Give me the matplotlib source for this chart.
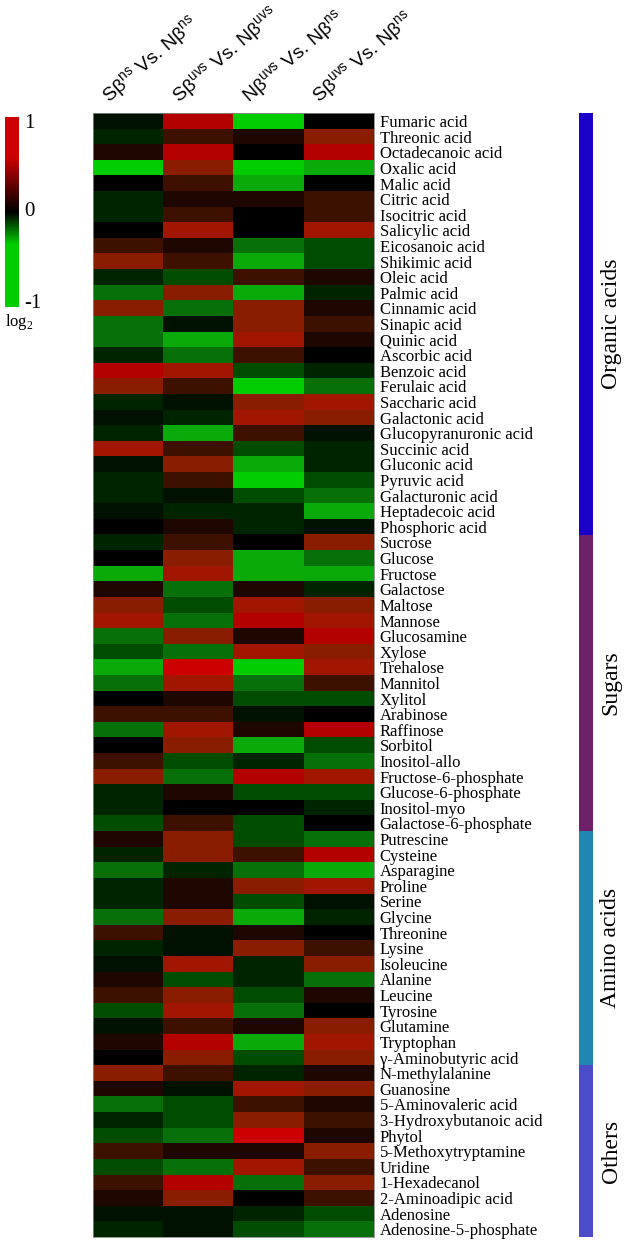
import numpy as np
import matplotlib.pyplot as plt
from matplotlib.colors import LinearSegmentedColormap

# metabolites (top to bottom) and their classes
metabolites = [
    "Fumaric acid", "Threonic acid", "Octadecanoic acid", "Oxalic acid", "Malic acid",
    "Citric acid", "Isocitric acid", "Salicylic acid", "Eicosanoic acid", "Shikimic acid",
    "Oleic acid", "Palmic acid", "Cinnamic acid", "Sinapic acid", "Quinic acid",
    "Ascorbic acid", "Benzoic acid", "Ferulaic acid", "Saccharic acid", "Galactonic acid",
    "Glucopyranuronic acid", "Succinic acid", "Gluconic acid", "Pyruvic acid",
    "Galacturonic acid", "Heptadecoic acid", "Phosphoric acid",
    "Sucrose", "Glucose", "Fructose", "Galactose", "Maltose", "Mannose", "Glucosamine",
    "Xylose", "Trehalose", "Mannitol", "Xylitol", "Arabinose", "Raffinose", "Sorbitol",
    "Inositol-allo", "Fructose-6-phosphate", "Glucose-6-phosphate", "Inositol-myo",
    "Galactose-6-phosphate",
    "Putrescine", "Cysteine", "Asparagine", "Proline", "Serine", "Glycine", "Threonine",
    "Lysine", "Isoleucine", "Alanine", "Leucine", "Tyrosine", "Glutamine", "Tryptophan",
    "γ-Aminobutyric acid",
    "N-methylalanine", "Guanosine", "5-Aminovaleric acid", "3-Hydroxybutanoic acid",
    "Phytol", "5-Methoxytryptamine", "Uridine", "1-Hexadecanol", "2-Aminoadipic acid",
    "Adenosine", "Adenosine-5-phosphate",
]
groups = ["Organic acids", "Sugars", "Amino acids", "Others"]
group_sizes = [27, 19, 15, 11]
group_colors = ["#1a00c8", "#6e2068", "#2088b0", "#4c4cc8"]

comparisons = [
    r"Sβ$^{\mathregular{ns}}$ Vs. Nβ$^{\mathregular{ns}}$",
    r"Sβ$^{\mathregular{uvs}}$ Vs. Nβ$^{\mathregular{uvs}}$",
    r"Nβ$^{\mathregular{uvs}}$ Vs. Nβ$^{\mathregular{ns}}$",
    r"Sβ$^{\mathregular{uvs}}$ Vs. Nβ$^{\mathregular{ns}}$",
]

# log2 fold changes, one list per comparison
sns_vs_nns = [
    -0.1, -0.2, 0.1, -1, 0, -0.2, -0.2, 0, 0.25, 0.6, -0.2, -0.6, 0.6, -0.6, -0.6,
    -0.2, 0.9, 0.6, -0.2, -0.1, -0.2, 0.75, -0.1, -0.2, -0.2, -0.1, 0,
    -0.2, 0, -0.8, 0.1, 0.6, 0.75, -0.6, -0.4, -0.8, -0.6, 0, 0.25, -0.6, 0,
    0.25, 0.6, -0.2, -0.2, -0.4,
    0.1, -0.2, -0.6, -0.2, -0.2, -0.6, 0.25, -0.2, -0.1, 0.1, 0.25, -0.4, -0.1, 0.1, 0,
    0.6, 0.1, -0.6, -0.2, -0.4, 0.25, -0.4, 0.25, 0.1, -0.1, -0.2,
]
suvs_vs_nuvs = [
    0.9, 0.25, 0.9, 0.6, 0.25, 0.1, 0.25, 0.75, 0.1, 0.25, -0.4, 0.6, -0.6, -0.1, -0.8,
    -0.6, 0.75, 0.25, -0.1, -0.2, -0.8, 0.25, 0.6, 0.25, -0.1, -0.2, 0.1,
    0.25, 0.6, 0.75, -0.6, -0.4, -0.6, 0.6, -0.6, 1.0, 0.75, 0.1, 0.25, 0.75, 0.6,
    -0.4, -0.6, 0.1, 0, 0.25,
    0.6, 0.6, -0.2, 0.1, 0.1, 0.6, -0.1, -0.1, 0.75, -0.4, 0.6, 0.75, 0.25, 0.9, 0.6,
    0.25, -0.1, -0.4, -0.4, -0.6, 0.1, -0.6, 0.9, 0.6, -0.1, -0.1,
]
nuvs_vs_nns = [
    -1, 0.1, 0, -1, -0.8, 0.1, 0, 0, -0.6, -0.8, 0.25, -0.8, 0.6, 0.6, 0.75,
    0.25, -0.4, -1, 0.6, 0.75, 0.25, -0.4, -0.8, -1, -0.4, -0.2, -0.2,
    0, -0.8, -0.8, 0.1, 0.75, 0.9, 0.1, 0.75, -1, -0.6, -0.4, -0.1, 0.1, -0.8,
    -0.2, 0.9, -0.4, 0, -0.4,
    -0.4, 0.25, -0.6, 0.6, -0.4, -0.8, 0.1, 0.6, -0.2, -0.2, -0.4, -0.6, 0.1, -0.8, -0.4,
    -0.2, 0.75, 0.25, 0.6, 1.0, 0.1, 0.75, -0.6, 0, -0.2, -0.4,
]
suvs_vs_nns = [
    0, 0.6, 0.9, -0.8, 0, 0.25, 0.25, 0.75, -0.4, -0.4, 0.1, -0.2, 0.1, 0.25, 0.1,
    0, -0.2, -0.6, 0.75, 0.6, -0.1, -0.2, -0.2, -0.4, -0.6, -0.8, -0.1,
    0.6, -0.6, -0.8, -0.2, 0.6, 0.75, 0.9, 0.6, 0.75, 0.25, -0.4, 0, 0.9, -0.4,
    -0.6, 0.75, -0.4, -0.2, 0,
    -0.6, 0.9, -0.8, 0.75, -0.1, -0.2, 0, 0.25, 0.6, -0.6, 0.1, 0, 0.6, 0.75, 0.6,
    0.1, 0.6, 0.1, 0.25, 0.1, 0.6, 0.25, 0.6, 0.25, -0.4, -0.6,
]

W, H = 625, 1240
SERIF = "Liberation Serif"
SANS = "Liberation Sans"

# green - black - red scale
nodes = [(-1, "#00cc00"), (-0.8, "#0aaa0a"), (-0.6, "#087008"), (-0.4, "#004c00"),
         (-0.2, "#002400"), (-0.1, "#001200"), (0, "#000000"), (0.1, "#1e0800"),
         (0.25, "#3c1000"), (0.6, "#8a1c00"), (0.75, "#a01800"), (0.9, "#b40000"),
         (1, "#cc0000")]
cmap = LinearSegmentedColormap.from_list("gbr", [((v + 1) / 2, c) for v, c in nodes])
bar_cmap = LinearSegmentedColormap.from_list(
    "bar", [(0, "#00cc00"), (0.33, "#00cc00"), (0.5, "#000000"), (0.79, "#cc0000"), (1, "#cc0000")])


def px_axes(x0, y0, x1, y1):
    return fig.add_axes([x0 / W, 1 - y1 / H, (x1 - x0) / W, (y1 - y0) / H])


fig = plt.figure(figsize=(W / 100, H / 100), dpi=100)

# heatmap
mat = np.column_stack([sns_vs_nns, suvs_vs_nuvs, nuvs_vs_nns, suvs_vs_nns])
hx0, hx1, hy0, hy1 = 93.3, 374, 113.3, 1237
ax = px_axes(hx0, hy0, hx1, hy1)
ax.imshow(mat, cmap=cmap, vmin=-1, vmax=1, aspect="auto", interpolation="nearest")
ax.set_xticks([])
ax.yaxis.tick_right()
ax.set_yticks(range(len(metabolites)))
ax.set_yticklabels(metabolites, fontsize=12, family=SERIF)
ax.tick_params(axis="y", length=0, pad=4)
for s in ax.spines.values():
    s.set_color("#888888")
    s.set_linewidth(0.6)

# column headers
colw = (hx1 - hx0) / len(comparisons)
for i, lab in enumerate(comparisons):
    x = hx0 + i * colw + 16
    fig.text(x / W, 1 - 104 / H, lab, rotation=41, rotation_mode="anchor",
             ha="left", va="baseline", fontsize=14, family=SANS)

# colour key
cax = px_axes(5, 117, 19, 307)
grad = np.linspace(1, -1, 200).reshape(-1, 1)
cax.imshow(grad, cmap=bar_cmap, vmin=-1, vmax=1, aspect="auto")
cax.axis("off")
for v, y in [("1", 123), ("0", 212), ("-1", 303)]:
    fig.text(24 / W, 1 - y / H, v, ha="left", va="center", fontsize=15, family=SERIF)
fig.text(5 / W, 1 - 322 / H, r"log$_{\mathregular{2}}$", ha="left", va="center",
         fontsize=12, family=SERIF)

# class bar
gax = px_axes(579, hy0, 593, hy1)
start = 0
for name, n, c in zip(groups, group_sizes, group_colors):
    gax.barh(start + n / 2, 1, height=n, left=0, color=c)
    fig.text(611 / W, 1 - (hy0 + (start + n / 2) * (hy1 - hy0) / len(metabolites)) / H,
             name, rotation=90, ha="center", va="center", fontsize=17, family=SERIF)
    start += n
gax.set_ylim(len(metabolites), 0)
gax.set_xlim(0, 1)
gax.axis("off")

fig.savefig("out.png", dpi=100)
